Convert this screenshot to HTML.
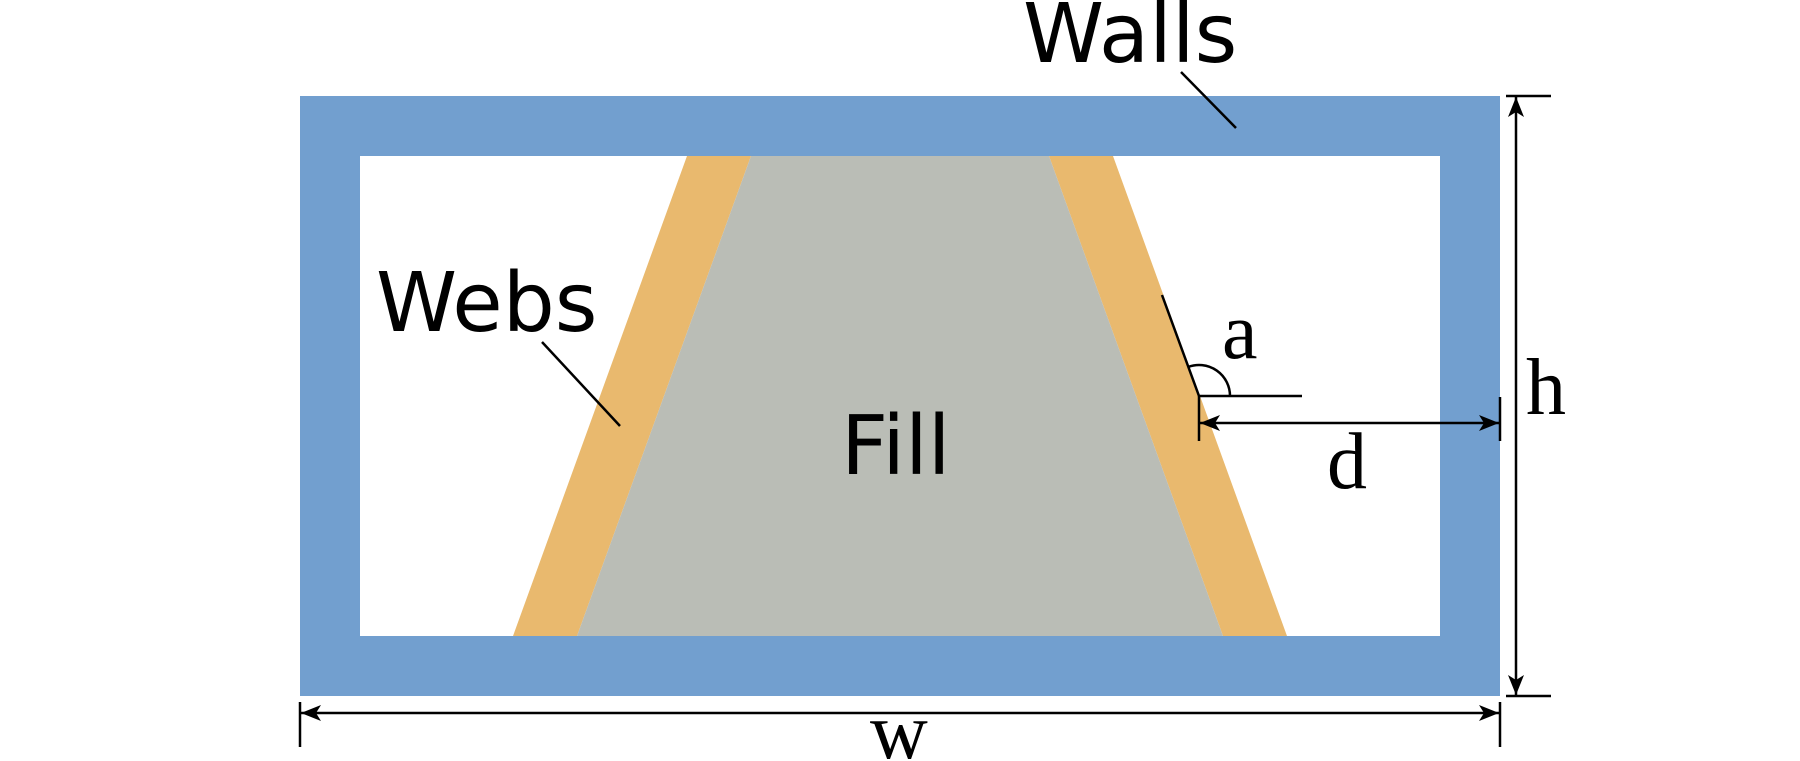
<!DOCTYPE html>
<html><head><meta charset="utf-8"><style>
html,body{margin:0;padding:0;background:#fff;}
svg{display:block;}
.sans{font-family:"DejaVu Sans","Liberation Sans",sans-serif;font-size:82px;fill:#000;}
.serif{font-family:"Liberation Serif",serif;font-size:80px;fill:#000;}
</style></head><body>
<svg width="1800" height="761" viewBox="0 0 1800 761" xmlns="http://www.w3.org/2000/svg">
<defs>
<marker id="ah" viewBox="0 0 20 16" refX="20" refY="8" markerWidth="20" markerHeight="16" markerUnits="userSpaceOnUse" orient="auto">
<path d="M20,8 L0,0 L5,8 L0,16 Z" fill="#000"/>
</marker>
<marker id="at" viewBox="0 0 20 16" refX="0" refY="8" markerWidth="20" markerHeight="16" markerUnits="userSpaceOnUse" orient="auto">
<path d="M0,8 L20,0 L15,8 L20,16 Z" fill="#000"/>
</marker>
</defs>
<!-- walls -->
<path d="M300,96 H1500 V696 H300 Z M360,156 V636 H1440 V156 Z" fill="#729fcf" fill-rule="evenodd"/>
<!-- webs -->
<polygon points="687,156 751,156 577,636 513,636" fill="#e9b96e"/>
<polygon points="1049,156 1113,156 1287,636 1223,636" fill="#e9b96e"/>
<!-- fill -->
<polygon points="751,156 1049,156 1223,636 577,636" fill="#babdb6"/>

<!-- labels -->
<text class="sans" x="1023" y="62">Walls</text>
<text class="sans" x="376" y="331">Webs</text>
<text class="sans" x="841" y="474">Fill</text>

<!-- leaders -->
<line x1="1181" y1="72" x2="1236" y2="128" stroke="#000" stroke-width="2.5"/>
<line x1="542" y1="342" x2="620" y2="426" stroke="#000" stroke-width="2.5"/>

<!-- angle a -->
<line x1="1162" y1="295" x2="1199" y2="396" stroke="#000" stroke-width="2.5"/>
<line x1="1199" y1="396" x2="1302" y2="396" stroke="#000" stroke-width="2.5"/>
<path d="M1230,396 A31,31 0 0 0 1188.3,366.9" fill="none" stroke="#000" stroke-width="2.5"/>
<text class="serif" x="1222" y="358">a</text>

<!-- d dimension -->
<line x1="1199" y1="396" x2="1199" y2="441" stroke="#000" stroke-width="2.5"/>
<line x1="1500" y1="397" x2="1500" y2="441" stroke="#000" stroke-width="2.5"/>
<line x1="1200" y1="423" x2="1499" y2="423" stroke="#000" stroke-width="2.5" marker-start="url(#at)" marker-end="url(#ah)"/>
<text class="serif" x="1327" y="488">d</text>

<!-- h dimension -->
<line x1="1506" y1="96" x2="1551" y2="96" stroke="#000" stroke-width="2.5"/>
<line x1="1506" y1="696" x2="1551" y2="696" stroke="#000" stroke-width="2.5"/>
<line x1="1516" y1="97" x2="1516" y2="695" stroke="#000" stroke-width="2.5" marker-start="url(#at)" marker-end="url(#ah)"/>
<text class="serif" x="1526" y="414">h</text>

<!-- w dimension -->
<line x1="300" y1="702" x2="300" y2="747" stroke="#000" stroke-width="2.5"/>
<line x1="1500" y1="702" x2="1500" y2="747" stroke="#000" stroke-width="2.5"/>
<line x1="301" y1="713" x2="1499" y2="713" stroke="#000" stroke-width="2.5" marker-start="url(#at)" marker-end="url(#ah)"/>
<text class="serif" x="870" y="758">w</text>
</svg>
</body></html>
